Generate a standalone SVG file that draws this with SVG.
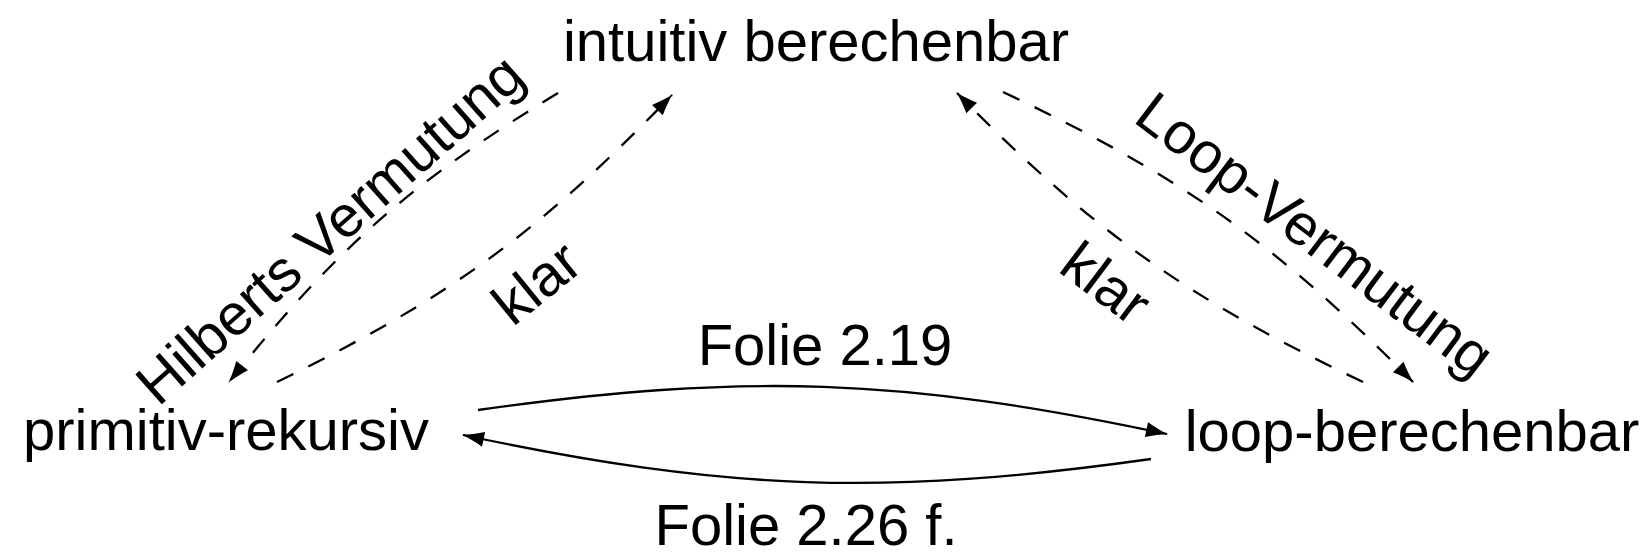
<svg xmlns="http://www.w3.org/2000/svg" width="1650" height="555" viewBox="0 0 1650 555">
<style>
text{font-family:"Liberation Sans",Arial,sans-serif;font-size:58px;fill:#000}
.node text{text-anchor:middle}
.lbl{text-anchor:middle}
.edge{fill:none;stroke:#000;stroke-width:2.3;marker-end:url(#ah)}
.dash{stroke-dasharray:18 17}
</style>
<defs>
<marker id="ah" markerUnits="userSpaceOnUse" orient="auto" markerWidth="30" markerHeight="30" refX="0" refY="0" overflow="visible">
<path d="M1,0 C-6,-1.5 -14,-4.5 -21,-7.5 L-21,7.5 C-14,4.5 -6,1.5 1,0 Z" fill="#000"/>
</marker>
</defs>
<g id="node-intuitiv" class="node"><text x="816" y="61">intuitiv berechenbar</text></g>
<g id="node-primitiv" class="node"><text x="226" y="450">primitiv-rekursiv</text></g>
<g id="node-loop" class="node"><text x="1412" y="451">loop-berechenbar</text></g>
<g id="connectors">
<g id="e-hilbert">
<path class="edge dash" d="M558,93 C411.6,182 336.2,248.2 229,382"/>
<text class="lbl" transform="translate(343,244) rotate(-41.5)">Hilberts Vermutung</text>
</g>
<g id="e-klar-left">
<path class="edge dash" d="M277,382 C448.7,298.3 539.3,232.5 672,95"/>
<text class="lbl" transform="translate(549,298) rotate(-39)">klar</text>
</g>
<g id="e-loopverm">
<path class="edge dash" d="M1003,92 C1180.8,175.9 1274.6,242.3 1413,382"/>
<text class="lbl" transform="translate(1303,250) rotate(37)">Loop-Vermutung</text>
</g>
<g id="e-klar-right">
<path class="edge dash" d="M1363,382 C1186.8,298.2 1093.8,232 957,93"/>
<text class="lbl" transform="translate(1094,299) rotate(37)">klar</text>
</g>
<g id="e-folie219">
<path class="edge" d="M478,410 C745.2,372.4 903,377.9 1167,434"/>
<text class="lbl" x="825" y="365">Folie 2.19</text>
</g>
<g id="e-folie226">
<path class="edge" d="M1151,459 C884.2,496.5 726.6,491.1 463,435"/>
<text class="lbl" x="806" y="545">Folie 2.26 f.</text>
</g>
</g>
</svg>
